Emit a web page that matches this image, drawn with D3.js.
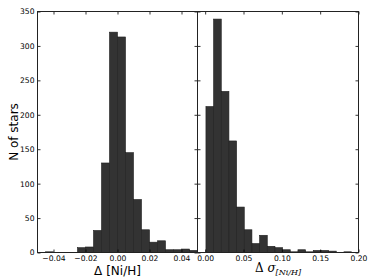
<!DOCTYPE html>
<html>
<head>
<meta charset="utf-8">
<script src="https://cdn.jsdelivr.net/npm/d3@7"></script>
<style>
body { margin: 0; background: #fff; }
text { font-family: "DejaVu Sans", sans-serif; fill: #000; }
</style>
</head>
<body>
<div class="vis"></div>
<script>

// histogram of Delta [Ni/H] (left panel)
var niBinWidth = 0.005;
var niBins = [-0.045, -0.040, -0.035, -0.030, -0.025, -0.020, -0.015, -0.010, -0.005,
	0.000, 0.005, 0.010, 0.015, 0.020, 0.025, 0.030, 0.035, 0.040, 0.045];
var niCounts = [1, 0, 0, 0, 7, 8, 32, 130, 320, 313, 145, 77, 33, 15, 17, 4, 4, 5, 3];

// histogram of Delta sigma (right panel)
var sigBinWidth = 0.01;
var sigBins = [0.001, 0.011, 0.021, 0.031, 0.041, 0.051, 0.061, 0.071, 0.081, 0.091,
	0.101, 0.111, 0.121, 0.131, 0.141, 0.151, 0.161, 0.171, 0.181];
var sigCounts = [212, 339, 234, 162, 66, 33, 13, 25, 9, 7, 4, 1, 4, 1, 3, 3, 2, 0, 1];

var niTicks = [-0.04, -0.02, 0.00, 0.02, 0.04];
var sigTicks = [0.00, 0.05, 0.10, 0.15, 0.20];
var yTicks = [0, 50, 100, 150, 200, 250, 300, 350];

var width = 374, height = 280;

var svg = d3.select(".vis").append("svg")
	.attr("width", width)
	.attr("height", height);

// shared y scale
var y = d3.scaleLinear().domain([0, 350]).range([252.5, 11.5]);

var panels = [
	{ bins: niBins, counts: niCounts, bw: niBinWidth, ticks: niTicks,
	  x: d3.scaleLinear().domain([-0.05, 0.05]).range([37.5, 197.5]), labels: true },
	{ bins: sigBins, counts: sigCounts, bw: sigBinWidth, ticks: sigTicks,
	  x: d3.scaleLinear().domain([-0.01, 0.2]).range([197.5, 358.5]), labels: false }
];

var fmt = d3.format(".2f");

panels.forEach(function(p) {
	var g = svg.append("g");

	// bars
	g.selectAll("rect.bar")
		.data(p.bins.map(function(b, i) { return { x0: b, n: p.counts[i] }; }))
		.enter().append("rect")
		.attr("class", "bar")
		.attr("x", function(d) { return p.x(d.x0); })
		.attr("width", function(d) { return p.x(d.x0 + p.bw) - p.x(d.x0); })
		.attr("y", function(d) { return y(d.n); })
		.attr("height", function(d) { return y(0) - y(d.n); })
		.style("fill", "#333")
		.style("stroke", "#1e1e1e")
		.style("stroke-width", 0.6);

	var r = p.x.range();

	// bottom axis with labels, ticks pointing inward
	var bottom = g.append("g")
		.attr("transform", "translate(0," + y(0) + ")")
		.call(d3.axisBottom(p.x).tickValues(p.ticks).tickSize(-3).tickPadding(3).tickFormat(fmt));
	// top axis, ticks only
	var top = g.append("g")
		.attr("transform", "translate(0," + y(350) + ")")
		.call(d3.axisTop(p.x).tickValues(p.ticks).tickSize(-3).tickFormat(""));
	// left and right ticks
	var left = g.append("g")
		.attr("transform", "translate(" + r[0] + ",0)")
		.call(d3.axisLeft(y).tickValues(yTicks).tickSize(-3).tickPadding(3)
			.tickFormat(p.labels ? d3.format("d") : ""));
	var right = g.append("g")
		.attr("transform", "translate(" + r[1] + ",0)")
		.call(d3.axisRight(y).tickValues(yTicks).tickSize(-3).tickFormat(""));

	[bottom, top, left, right].forEach(function(a) {
		a.select(".domain").remove();
		a.selectAll("line").style("stroke", "#000").style("stroke-width", 0.8);
		a.selectAll("text").style("font-size", "7.6px").style("font-family", "DejaVu Sans").style("fill", "#000");
	});

	// frame
	g.append("rect")
		.attr("x", r[0])
		.attr("y", y(350))
		.attr("width", r[1] - r[0])
		.attr("height", y(0) - y(350))
		.style("fill", "none")
		.style("stroke", "#222")
		.style("stroke-width", 1);
});

// axis titles
svg.append("text")
	.attr("transform", "translate(14," + (y(175)) + ") rotate(-90)")
	.attr("text-anchor", "middle")
	.attr("dy", "0.35em")
	.style("font-size", "12px")
	.text("N of stars");

svg.append("text")
	.attr("x", 117.5)
	.attr("y", 275)
	.attr("text-anchor", "middle")
	.style("font-size", "12px")
	.text("Δ [Ni/H]");

var sigLabel = svg.append("text")
	.attr("x", 278)
	.attr("y", 272)
	.attr("text-anchor", "middle")
	.style("font-family", "DejaVu Serif, serif")
	.style("font-size", "12px");
sigLabel.append("tspan").text("Δ ");
sigLabel.append("tspan").style("font-style", "italic").text("σ");
sigLabel.append("tspan").attr("dy", 3).style("font-style", "italic").style("font-size", "8px").text("[Ni/H]");

</script>
</body>
</html>
